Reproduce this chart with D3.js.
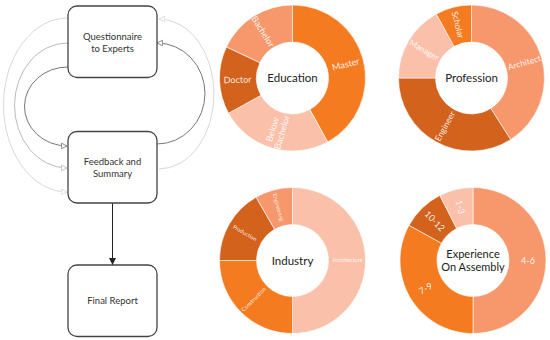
<!DOCTYPE html>
<html><head><meta charset="utf-8">
<script src="https://cdn.jsdelivr.net/npm/d3@7"></script>
<style>body{margin:0;background:#fff}svg{display:block}</style>
</head><body>
<svg id="c" width="550" height="340"></svg>
<script>
// ---- data ----
const eduLabels = ["Master", "Below\nBachelor", "Doctor", "Bachelor"];
const eduValues = [42, 25, 15, 18];
const profLabels = ["Architect", "Engineer", "Manager", "Scholar"];
const profValues = [41, 34, 17, 8];
const indLabels = ["Architecture", "Construction", "Production", "Engineering"];
const indValues = [50, 25, 16.7, 8.3];
const expLabels = ["4-6", "7-9", "10-12", "1-3"];
const expValues = [50, 33, 9.5, 7.5];
const flowLabels = ["Questionnaire\nto Experts", "Feedback and\nSummary", "Final Report"];

// ---- styles ----
const C = {bright:"#F47B20", dark:"#D2621C", mid:"#F7976C", light:"#FAC0AA"};
const donuts = [
  {title:"Education", labels:eduLabels, values:eduValues, colors:[C.bright,C.light,C.dark,C.mid], cx:292.5, cy:78, fs:9},
  {title:"Profession", labels:profLabels, values:profValues, colors:[C.mid,C.dark,C.light,C.bright], cx:471.5, cy:78, fs:8.5},
  {title:"Industry", labels:indLabels, values:indValues, colors:[C.light,C.bright,C.dark,C.mid], cx:292.5, cy:260.5, fs:5.5},
  {title:"Experience\nOn Assembly", labels:expLabels, values:expValues, colors:[C.mid,C.bright,C.dark,C.light], cx:473, cy:260.5, fs:9}
];
const svg = d3.select("#c");
const font = "Lato, 'Open Sans', sans-serif";

const pie = d3.pie().sort(null).value(d => d);
const arc = d3.arc().innerRadius(36).outerRadius(73);
const labelArc = d3.arc().innerRadius(55).outerRadius(55);

donuts.forEach(dn => {
  const g = svg.append("g").attr("transform", `translate(${dn.cx},${dn.cy})`);
  const arcs = pie(dn.values);
  g.selectAll("path").data(arcs).join("path")
    .attr("d", arc).attr("fill", (d,i) => dn.colors[i])
    .attr("stroke", "#fff").attr("stroke-width", 0.6);
  arcs.forEach((d,i) => {
    const [x,y] = labelArc.centroid(d);
    const a = (d.startAngle + d.endAngle) / 2 * 180 / Math.PI;
    const rot = a < 180 ? a - 90 : a - 270;
    const lines = dn.labels[i].split("\n");
    const t = g.append("text").attr("transform", `translate(${x},${y}) rotate(${rot})`)
      .attr("text-anchor", "middle").attr("fill", "#fff").attr("fill-opacity", 0.9)
      .attr("font-family", font).attr("font-size", dn.fs);
    lines.forEach((l,k) => t.append("tspan").attr("x", 0)
      .attr("dy", k === 0 ? (0.35 - (lines.length-1)*0.55) + "em" : "1.1em").text(l));
  });
  const tl = dn.title.split("\n");
  const tt = g.append("text").attr("text-anchor", "middle").attr("fill", "#222")
    .attr("font-family", font).attr("font-size", tl.length > 1 ? 11 : 11.5);
  tl.forEach((l,k) => tt.append("tspan").attr("x", 0)
    .attr("dy", k === 0 ? (0.35 - (tl.length-1)*0.6) + "em" : "1.2em").text(l));
});

// ---- flowchart ----
const defs = svg.append("defs");
function openMarker(id, col) {
  defs.append("marker").attr("id", id).attr("viewBox", "0 0 10 10").attr("refX", 9).attr("refY", 5)
    .attr("markerWidth", 7).attr("markerHeight", 7).attr("markerUnits", "userSpaceOnUse")
    .attr("orient", "auto")
    .append("path").attr("d", "M1,1 L9,5 L1,9 Z").attr("fill", "#fff").attr("stroke", col).attr("stroke-width", 1.2);
}
openMarker("m1", "#777"); openMarker("m2", "#bbb"); openMarker("m3", "#d8d8d8");
defs.append("marker").attr("id", "mf").attr("viewBox", "0 0 10 10").attr("refX", 10).attr("refY", 5)
  .attr("markerWidth", 8).attr("markerHeight", 7).attr("markerUnits", "userSpaceOnUse").attr("orient", "auto")
  .append("path").attr("d", "M0,0 L10,5 L0,10 Z").attr("fill", "#222");

const loops = [
  {d:"M68,67 A43,39.5 0 0 0 67,146", col:"#777", m:"m1"},
  {d:"M68,43 A53,62.5 0 0 0 67,168", col:"#bbb", m:"m2"},
  {d:"M68,18 A64,87 0 0 0 67,192", col:"#d8d8d8", m:"m3"},
  {d:"M157,144 A48,50.5 0 0 0 157,43", col:"#777", m:"m1"},
  {d:"M159,169 A55,75 0 0 0 159,19", col:"#d8d8d8", m:"m3"}
];
loops.forEach(l => svg.append("path").attr("d", l.d).attr("fill", "none")
  .attr("stroke", l.col).attr("stroke-width", 1).attr("marker-end", `url(#${l.m})`));

svg.append("line").attr("x1", 112.5).attr("y1", 202).attr("x2", 112.5).attr("y2", 265)
  .attr("stroke", "#222").attr("stroke-width", 1).attr("marker-end", "url(#mf)");

const boxY = [6, 131.5, 265];
flowLabels.forEach((lab, i) => {
  svg.append("rect").attr("x", 68).attr("y", boxY[i]).attr("width", 89).attr("height", 71.5)
    .attr("rx", 9).attr("fill", "#fff").attr("stroke", "#444").attr("stroke-width", 1.3);
  const lines = lab.split("\n");
  const t = svg.append("text").attr("text-anchor", "middle").attr("fill", "#333")
    .attr("font-family", font).attr("font-size", 9.5)
    .attr("transform", `translate(112.5,${boxY[i] + 36})`);
  lines.forEach((l,k) => t.append("tspan").attr("x", 0)
    .attr("dy", k === 0 ? (0.35 - (lines.length-1)*0.6) + "em" : "1.3em").text(l));
});
</script>
</body></html>
